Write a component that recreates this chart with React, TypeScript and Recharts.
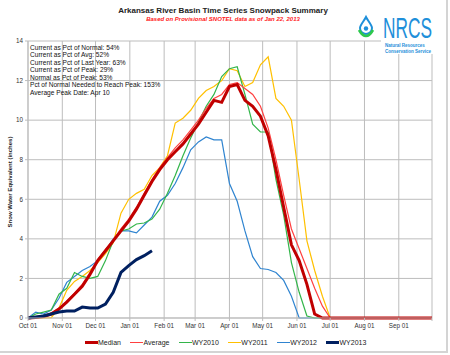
import { LineChart, Line, XAxis, YAxis, CartesianGrid } from "recharts";

const FONT = "Arial, 'Liberation Sans', sans-serif";

// day of water year (0 = Oct 01)
const days = [
  0, 7, 14, 21, 28, 35, 42, 49, 56, 63, 70, 77, 84, 91, 98, 105, 112, 119,
  126, 133, 140, 147, 154, 161, 168, 175, 182, 189, 196, 203, 210, 217, 224,
  231, 238, 245, 252, 259, 266, 273, 280, 287, 294, 301, 308, 315, 322, 329,
  336, 343, 350, 357, 364, 365,
];

const monthTicks = [0, 31, 61, 92, 123, 151, 182, 212, 243, 273, 304, 335, 365];
const monthLabels = [
  "Oct 01", "Nov 01", "Dec 01", "Jan 01", "Feb 01", "Mar 01",
  "Apr 01", "May 01", "Jun 01", "Jul 01", "Aug 01", "Sep 01", "",
];
const yTicks = [0, 2, 4, 6, 8, 10, 12, 14];

const median = [
  0, 0.02, 0.08, 0.2, 0.45, 0.8, 1.2, 1.6, 2.2, 2.9, 3.4, 3.9, 4.4, 4.9, 5.5,
  6.2, 6.9, 7.5, 8.0, 8.4, 8.8, 9.3, 9.8, 10.4, 11.0, 10.9, 11.7, 11.8, 11.0,
  10.7, 10.2, 9.2, 7.5, 5.6, 3.7, 2.9, 1.7, 0.2, 0, 0, 0, 0, 0, 0, 0, 0, 0, 0,
  0, 0, 0, 0, 0, 0,
];
const average = [
  0, 0.03, 0.1, 0.25, 0.5, 0.85, 1.25, 1.7, 2.3, 2.95, 3.45, 3.95, 4.5, 5.0,
  5.6, 6.3, 7.0, 7.6, 8.1, 8.6, 9.0, 9.5, 10.0, 10.6, 11.1, 11.3, 11.8, 11.9,
  11.6, 11.3, 10.7, 9.6, 8.0, 6.2, 4.5, 3.5, 2.5, 1.5, 0.6, 0, 0, 0, 0, 0, 0,
  0, 0, 0, 0, 0, 0, 0, 0, 0,
];
const wy2010 = [
  0, 0.2, 0.3, 0.4, 1.2, 1.5, 2.3, 2.1, 2.0, 2.1, 2.9, 3.9, 4.4, 4.5, 4.75,
  4.8, 5.0, 5.5, 6.3, 7.2, 8.2, 9.1, 9.9, 10.7, 11.3, 12.2, 12.6, 12.7, 11.3,
  9.8, 9.4, 9.4, 7.0, 5.2, 2.8, 1.3, 0.1, 0, 0, 0, 0, 0, 0, 0, 0, 0, 0, 0, 0,
  0, 0, 0, 0, 0,
];
const wy2011 = [
  0, 0, 0, 0.02, 0.5, 1.4, 1.85, 2.1, 2.4, 2.8, 3.25, 3.8, 5.3, 6.0, 6.3, 6.5,
  7.2, 7.6, 8.2, 9.85, 10.1, 10.5, 11.1, 11.5, 11.7, 12.0, 12.6, 12.5, 11.7,
  11.9, 12.8, 13.2, 11.1, 10.7, 10.0, 7.0, 3.9, 2.4, 1.1, 0, 0, 0, 0, 0, 0, 0,
  0, 0, 0, 0, 0, 0, 0, 0,
];
const wy2012 = [
  0, 0.3, 0.2, 0.4, 1.0, 1.8, 2.1, 2.4, 2.6, 2.9, 3.4, 4.0, 4.4, 4.4, 4.3,
  4.7, 5.1, 5.9, 6.2, 6.8, 7.6, 8.5, 8.9, 9.15, 9.0, 9.0, 6.8, 5.9, 4.4, 3.1,
  2.5, 2.45, 2.3, 1.9, 1.1, 0, 0, 0, 0, 0, 0, 0, 0, 0, 0, 0, 0, 0, 0, 0, 0, 0,
  0, 0,
];
// current year, through Jan 22
const wy2013 = [
  0, 0.05, 0.1, 0.2, 0.3, 0.35, 0.35, 0.55, 0.5, 0.5, 0.7, 1.3, 2.3, 2.65,
  2.95, 3.15, 3.4,
];

const infoLines = [
  "Current as Pct of Normal: 54%",
  "Current as Pct of Avg: 52%",
  "Current as Pct of Last Year: 63%",
  "Current as Pct of Peak: 29%",
  "Normal as Pct of Peak: 53%",
  "Pct of Normal Needed to Reach Peak: 153%",
  "Average Peak Date: Apr 10",
];

const series = [
  { key: "median", name: "Median", color: "#C00000", width: 3 },
  { key: "average", name: "Average", color: "#FF4040", width: 1.2 },
  { key: "wy2010", name: "WY2010", color: "#33B54A", width: 1.2 },
  { key: "wy2011", name: "WY2011", color: "#FFC000", width: 1.2 },
  { key: "wy2012", name: "WY2012", color: "#2F84D0", width: 1.2 },
  { key: "wy2013", name: "WY2013", color: "#002060", width: 3 },
];
const drawOrder = ["wy2012", "wy2011", "wy2010", "average", "median", "wy2013"];

const rows = days.map((d, i) => ({
  day: d,
  median: median[i],
  average: average[i],
  wy2010: wy2010[i],
  wy2011: wy2011[i],
  wy2012: wy2012[i],
  wy2013: i < wy2013.length ? wy2013[i] : null,
}));

const gridColor = "#BDBDBD";

function Logo() {
  return (
    <svg
      width={90}
      height={56}
      style={{ position: "absolute", left: 355, top: 0 }}
    >
      <rect x={26} y={0} width={60} height={54} fill="#fff" />
      <path
        d="M11,17 C9,21 5,25 5,28 A6,6 0 0 0 17,28 C17,25 13,21 11,17 Z"
        fill="none"
        stroke="#1E8FDA"
        strokeWidth={2}
      />
      <circle cx={11} cy={28.5} r={2.2} fill="#1E8FDA" />
      <path d="M4,30 Q11,42 18,30" fill="none" stroke="#2DC84D" strokeWidth={2.6} />
      <g transform="translate(28,38) scale(1,1.5)">
        <text
          x={0}
          y={0}
          fontSize={20}
          fill="#1E8FDA"
          textLength={49}
          lengthAdjust="spacingAndGlyphs"
          fontFamily="'Liberation Sans Narrow', 'Liberation Sans', sans-serif"
        >
          NRCS
        </text>
      </g>
      <text x={30} y={46.8} fontSize={4.5} fill="#1E8FDA" fontFamily={FONT} fontWeight="bold">
        Natural Resources
      </text>
      <text x={30} y={53} fontSize={4.5} fill="#1E8FDA" fontFamily={FONT} fontWeight="bold">
        Conservation Service
      </text>
    </svg>
  );
}

export default function App() {
  const byKey = Object.fromEntries(series.map((s) => [s.key, s]));
  return (
    <div
      style={{
        position: "absolute",
        left: 0,
        top: 0,
        width: 450,
        height: 355,
        background: "#fff",
        fontFamily: FONT,
      }}
    >
      <div
        style={{
          position: "absolute",
          left: 0,
          top: 0,
          width: 446,
          height: 351,
          borderRight: "2px solid #D4D4D4",
          borderBottom: "2px solid #D4D4D4",
        }}
      />
      <LineChart
        width={450}
        height={355}
        data={rows}
        margin={{ top: 41, right: 18, bottom: 0, left: 0 }}
      >
        <CartesianGrid stroke={gridColor} />
        <XAxis
          dataKey="day"
          type="number"
          domain={[0, 365]}
          ticks={monthTicks}
          interval={0}
          tickFormatter={(v) => monthLabels[monthTicks.indexOf(v)]}
          height={37}
          tickSize={3}
          tickMargin={3}
          stroke={gridColor}
          tick={{ fontSize: 6.3, fill: "#333", fontFamily: FONT }}
        />
        <YAxis
          domain={[0, 14]}
          ticks={yTicks}
          interval={0}
          width={28}
          tickSize={3}
          tickMargin={2}
          stroke={gridColor}
          tick={{ fontSize: 6.3, fill: "#333", fontFamily: FONT }}
        />
        {drawOrder.map((k) => (
          <Line
            key={k}
            dataKey={k}
            name={byKey[k].name}
            stroke={byKey[k].color}
            strokeWidth={byKey[k].width}
            dot={false}
            type="linear"
            isAnimationActive={false}
          />
        ))}
      </LineChart>

      <div
        style={{
          position: "absolute",
          left: 0,
          width: 446,
          top: 6,
          textAlign: "center",
          fontSize: 8,
          fontWeight: "bold",
          color: "#222",
        }}
      >
        Arkansas River Basin Time Series Snowpack Summary
      </div>
      <div
        style={{
          position: "absolute",
          left: 0,
          width: 446,
          top: 16,
          textAlign: "center",
          fontSize: 6,
          fontWeight: "bold",
          fontStyle: "italic",
          color: "#FF2020",
        }}
      >
        Based on Provisional SNOTEL data as of Jan 22, 2013
      </div>

      <div
        style={{
          position: "absolute",
          left: 30,
          top: 43.5,
          fontSize: 6.6,
          lineHeight: "7.6px",
          color: "#111",
          whiteSpace: "nowrap",
        }}
      >
        {infoLines.map((t) => (
          <div key={t}>{t}</div>
        ))}
      </div>

      <div
        style={{
          position: "absolute",
          left: -50,
          top: 179,
          width: 120,
          textAlign: "center",
          fontSize: 6,
          fontWeight: "bold",
          color: "#222",
          transform: "rotate(-90deg)",
          whiteSpace: "nowrap",
        }}
      >
        Snow Water Equivalent (inches)
      </div>

      <div
        style={{
          position: "absolute",
          left: 85,
          top: 339,
          display: "flex",
          alignItems: "center",
          gap: 9.5,
          fontSize: 7,
          color: "#222",
        }}
      >
        {series.map((s) => (
          <div key={s.key} style={{ display: "flex", alignItems: "center" }}>
            <div
              style={{
                width: 13,
                height: s.width >= 2 ? 3 : 1.5,
                background: s.color,
              }}
            />
            <span>{s.name}</span>
          </div>
        ))}
      </div>

      <Logo />
    </div>
  );
}
